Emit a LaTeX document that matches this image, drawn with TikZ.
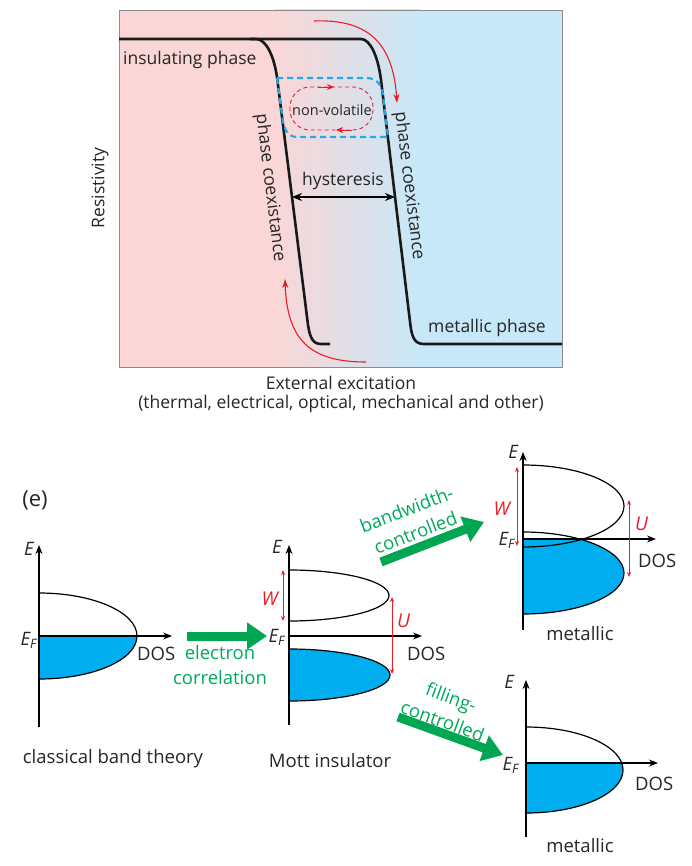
\documentclass[tikz,border=0pt]{standalone}
\usepackage{fontspec}
\setmainfont{Open Sans}
\usetikzlibrary{arrows.meta,positioning,calc}
\definecolor{pinkbg}{RGB}{250,214,214}
\definecolor{bluebg}{RGB}{199,232,248}
\definecolor{bandblue}{RGB}{0,174,239}
\definecolor{dashblue}{RGB}{39,170,225}
\definecolor{arrgreen}{RGB}{0,166,81}
\definecolor{txtgreen}{RGB}{0,170,90}
\definecolor{redline}{RGB}{237,28,36}
\tikzset{
  >=Stealth,
  curve/.style={line width=2.6pt, black!90},
  lbl/.style={font=\fontsize{17.5}{21}\selectfont, text=black!85, inner sep=1pt},
  blbl/.style={font=\fontsize{18.5}{25}\selectfont, text=black!85, inner sep=0pt},
  elbl/.style={font=\fontsize{18.5}{20}\selectfont\itshape, text=black!85, inner sep=0pt},
  rlbl/.style={font=\fontsize{19}{20}\selectfont\itshape, text=redline, inner sep=0pt},
  axis/.style={line width=1.3pt, -{Stealth[length=9pt,width=7pt]}},
  bandline/.style={line width=1.2pt},
  bandfill/.style={fill=bandblue},
  gap/.style={redline, line width=0.8pt, {Stealth[length=5pt,width=4pt]}-{Stealth[length=5pt,width=4pt]}},
  redarr/.style={redline, line width=1.1pt, -{Stealth[length=9pt,width=6pt]}},
  bigarrow/.style={arrgreen, line width=9pt, -{Triangle[length=20pt,width=26pt]}},
  gtxt/.style={blbl, text=txtgreen, align=center}
}
\begin{document}
\begin{tikzpicture}[x=1pt, y=-1pt]
  \useasboundingbox (0,0) rectangle (692,866);

  \fill[pinkbg] (119,10) rectangle (275,367);
  \shade[left color=pinkbg, right color=bluebg] (274.5,10) rectangle (420.5,367);
  \fill[bluebg] (420,10) rectangle (562,367);
  \draw[black!45, line width=0.6pt] (119,10) rectangle (562,367);

  \coordinate (ins) at (119,39);
  \coordinate (met) at (562,344);
  \draw[curve] (ins) -- (361,39) .. controls (370,39) and (378,56) .. (381,80)
    -- (410.4,325) .. controls (412,338) and (415,344) .. (424,344) -- (met);
  \draw[curve] (250,39) -- (256,39) .. controls (266,39) and (274.4,56) .. (277.4,80)
    -- (308,325) .. controls (310,338) and (313,344) .. (321,344) -- (330,344);

  \draw[dashblue, line width=2.2pt, dash pattern=on 6pt off 4pt]
    (277,78) -- (366,78) .. controls (378,78) and (382,86) .. (383,95) -- (388,137)
    -- (297,137) .. controls (289,137) and (285,131) .. (283,122) -- cycle;

  \node[lbl, font=\fontsize{14.5}{16}\selectfont] (nonvol) at (332,110) {non-volatile};
  \draw[redline, line width=0.9pt, dash pattern=on 4pt off 3pt, rounded corners=20pt]
    (290,87) rectangle (373,130);
  \draw[redline, line width=0.9pt, -{Stealth[length=7pt,width=6pt]}] (318,87) -- (334,87);
  \draw[redline, line width=0.9pt, -{Stealth[length=7pt,width=6pt]}] (352,130) -- (336,130);

  \coordinate (hl) at (292,197);
  \coordinate (hr) at (395,197);
  \draw[line width=1.2pt, {Stealth[length=10pt,width=8pt]}-{Stealth[length=10pt,width=8pt]}] (hl) -- (hr);
  \node[lbl] (hyst) at (343,181) {hysteresis};

  \coordinate (hotS) at (314,21);
  \coordinate (hotE) at (397,103);
  \draw[redarr] (hotS) .. controls (365,19) and (393,40) .. (hotE);
  \coordinate (coldS) at (366,362);
  \coordinate (coldE) at (285,279);
  \draw[redarr] (coldS) .. controls (310,362) and (287,340) .. (coldE);

  \node[lbl, anchor=west] (insph) at (122,60) {insulating phase};
  \node[lbl] (metph) at (487,328) {metallic phase};
  \node[lbl, rotate=-83] (coexl) at (270,188) {phase coexistance};
  \node[lbl, rotate=-83] (coexr) at (409,186) {phase coexistance};
  \node[lbl, rotate=90] (resist) at (100,188) {Resistivity};
  \node[lbl] (ext) at (341,383) {External excitation};
  \node[lbl, below=3pt of ext] (extsub) {(thermal, electrical, optical, mechanical and other)};

  \node[blbl, font=\fontsize{22}{26}\selectfont] (tag) at (35,500) {(e)};

  % classical band theory
  \begin{scope}[shift={(39,636)}]
    \fill[bandfill] (0,0) -- (98,0) arc[start angle=0, end angle=90, x radius=98, y radius=43] -- cycle;
    \draw[bandline] (0,-43) arc[start angle=-90, end angle=90, x radius=98, y radius=43];
    \draw[axis] (0,91) -- (0,-91);
    \draw[axis] (0,0) -- (133,0);
    \node[elbl, anchor=base east] (E1) at (-5,-81) {E};
    \node[elbl, anchor=base east] (EF1) at (-2,9) {E\textsubscript{F}};
    \node[blbl, anchor=base west] (dos1) at (98,24) {DOS};
    \node[blbl, anchor=base] (cap1) at (74,127) {classical band theory};
  \end{scope}

  % Mott insulator
  \begin{scope}[shift={(289,636)}]
    \fill[bandfill] (0,13) arc[start angle=-90, end angle=90, x radius=101, y radius=26] -- cycle;
    \draw[bandline] (0,-66) arc[start angle=-90, end angle=90, x radius=100, y radius=25.5];
    \draw[bandline] (0,13) arc[start angle=-90, end angle=90, x radius=101, y radius=26];
    \draw[axis] (0,89) -- (0,-91);
    \draw[axis] (0,0) -- (133,0);
    \draw[gap] (-6,-66) -- (-6,-15);
    \draw[gap] (103,-39) -- (103,38);
    \node[elbl, anchor=base east] (E2) at (-7,-83) {E};
    \node[elbl, anchor=base east] (EF2) at (-4,6) {E\textsubscript{F}};
    \node[rlbl, anchor=base east] (W2) at (-11,-31) {W};
    \node[rlbl, anchor=base west] (U2) at (108,-9) {U};
    \node[blbl, anchor=base west] (dos2) at (118,24) {DOS};
    \node[blbl, anchor=base] (cap2) at (41,131) {Mott insulator};
  \end{scope}

  % bandwidth-controlled metal
  \begin{scope}[shift={(523,539)}]
    \fill[bandfill] (0,0) -- (56.5,0) arc[start angle=-56, end angle=90, x radius=101, y radius=41] -- cycle;
    \draw[bandline] (0,-74) arc[start angle=-90, end angle=90, x radius=101, y radius=41];
    \draw[bandline] (0,-7) arc[start angle=-90, end angle=90, x radius=101, y radius=41];
    \draw[axis] (0,91) -- (0,-87);
    \draw[axis] (0,0) -- (133,0);
    \draw[gap] (-6,-72) -- (-6,7);
    \draw[gap] (106,-39) -- (106,38);
    \node[elbl, anchor=base east] (E3) at (-5,-81) {E};
    \node[elbl, anchor=base east] (EF3) at (-8,6) {E\textsubscript{F}};
    \node[rlbl, anchor=base east] (W3) at (-13,-24) {W};
    \node[rlbl, anchor=base west] (U3) at (112,-9) {U};
    \node[blbl, anchor=base west] (dos3) at (115,28) {DOS};
    \node[blbl, anchor=base] (cap3) at (57,101) {metallic};
  \end{scope}

  % filling-controlled metal
  \begin{scope}[shift={(526,763)}]
    \fill[bandfill] (0,0) -- (95.7,0) arc[start angle=-9.4, end angle=90, x radius=97, y radius=43] -- cycle;
    \draw[bandline] (0,-36) arc[start angle=-90, end angle=90, x radius=97, y radius=43];
    \draw[axis] (0,74) -- (0,-83);
    \draw[axis] (0,0) -- (132,0);
    \node[elbl, anchor=base east] (E4) at (-12,-75) {E};
    \node[elbl, anchor=base east] (EF4) at (-7,7) {E\textsubscript{F}};
    \node[blbl, anchor=base west] (dos4) at (109,27) {DOS};
    \node[blbl, anchor=base] (cap4) at (54,89) {metallic};
  \end{scope}

  \coordinate (ecS) at (187,636);
  \coordinate (ecE) at (267,636);
  \draw[bigarrow] (ecS) -- (ecE);
  \node[gtxt] (ectxt) at (220,665) {electron\\correlation};

  \coordinate (bwS) at (381,562);
  \coordinate (bwE) at (484,522);
  \draw[bigarrow] (bwS) -- (bwE);
  \node[gtxt, rotate=21] (bwtxt) at (411,521) {bandwidth-\\controlled};

  \coordinate (fcS) at (398,717);
  \coordinate (fcE) at (503,755);
  \draw[bigarrow] (fcS) -- (fcE);
  \node[gtxt, rotate=-20] (fctxt) at (447,709) {filling-\\controlled};
\end{tikzpicture}
\end{document}
